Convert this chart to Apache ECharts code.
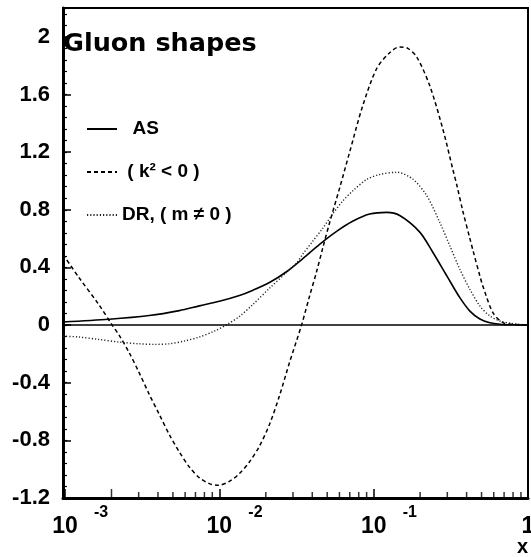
<!DOCTYPE html>
<html><head><meta charset="utf-8">
<script src="https://cdn.jsdelivr.net/npm/echarts@6/dist/echarts.min.js"></script>
<style>html,body{margin:0;padding:0;background:#fff}#c{width:531px;height:557px}</style>
</head><body><div id="c"></div>
<script>
// ---- data ----
const asX = [0.00097, 0.00193, 0.00351, 0.00550, 0.00742, 0.0100, 0.01349, 0.01638, 0.02112, 0.02723, 0.0346, 0.04461, 0.0575, 0.07304, 0.09419, 0.1214, 0.1475, 0.1989, 0.2416, 0.2979, 0.3617, 0.4202, 0.4879, 0.5666, 0.6579, 0.7992, 1.0];
const asY = [0.021, 0.040, 0.066, 0.100, 0.133, 0.165, 0.205, 0.240, 0.295, 0.370, 0.460, 0.560, 0.650, 0.720, 0.770, 0.782, 0.760, 0.645, 0.505, 0.341, 0.190, 0.097, 0.042, 0.016, 0.006, 0.002, 0.0];

const kX = [0.00097, 0.00123, 0.00166, 0.00202, 0.00224, 0.00260, 0.00302, 0.00351, 0.00408, 0.00474, 0.00550, 0.00639, 0.00742, 0.00861, 0.0098, 0.01161, 0.01349, 0.01566, 0.01819, 0.02112, 0.02453, 0.02848, 0.03408, 0.0384, 0.04265, 0.04665, 0.05179, 0.06014, 0.06985, 0.08483, 0.1046, 0.1270, 0.1475, 0.1663, 0.1902, 0.2310, 0.2806, 0.3258, 0.3459, 0.3783, 0.4202, 0.4394, 0.4879, 0.5103, 0.5925, 0.6881, 0.7992, 1.0];
const kY = [0.49, 0.33, 0.14, 0.0, -0.07, -0.19, -0.33, -0.48, -0.62, -0.76, -0.88, -0.985, -1.06, -1.10, -1.112, -1.085, -1.03, -0.95, -0.84, -0.69, -0.49, -0.26, 0.0, 0.20, 0.37, 0.53, 0.71, 0.95, 1.20, 1.52, 1.78, 1.89, 1.93, 1.92, 1.86, 1.66, 1.36, 1.08, 0.97, 0.79, 0.60, 0.52, 0.34, 0.27, 0.086, 0.017, 0.005, 0.0];

const drX = [0.00097, 0.00123, 0.00166, 0.00224, 0.00302, 0.00378, 0.00474, 0.00593, 0.00742, 0.00928, 0.01127, 0.01349, 0.01638, 0.02112, 0.02723, 0.03162, 0.0346, 0.04017, 0.04665, 0.05418, 0.06291, 0.07304, 0.09005, 0.1094, 0.1411, 0.1791, 0.2209, 0.2683, 0.3115, 0.3617, 0.4202, 0.4879, 0.5666, 0.6579, 0.7992, 1.0];
const drY = [-0.077, -0.083, -0.100, -0.118, -0.130, -0.134, -0.130, -0.111, -0.083, -0.042, 0.005, 0.060, 0.140, 0.255, 0.365, 0.43, 0.49, 0.58, 0.67, 0.77, 0.86, 0.93, 1.01, 1.045, 1.06, 1.013, 0.897, 0.712, 0.55, 0.387, 0.248, 0.132, 0.063, 0.028, 0.01, 0.0];

const seriesNames = ['AS', '( k\u00B2 < 0 )', 'DR, ( m \u2260 0 )'];
const legendPrefix = ['  ', ' ', ''];
const titleText = 'Gluon shapes';
const xTitle = 'x';

const xMin = 0.00097, xMax = 1;
const yMin = -1.2, yMax = 2.2, yStep = 0.4, yMinorStep = 0.08;
const decadeValues = [0.001, 0.01, 0.1, 1];
const decadeBase = ['10', '10', '10', '1'];
const decadeExp = ['-3', '-2', '-1', ''];
const minorXTicks = [0.003, 0.004, 0.005, 0.006, 0.007, 0.008, 0.009,
  0.02, 0.03, 0.04, 0.05, 0.06, 0.07, 0.08, 0.09,
  0.2, 0.3, 0.4, 0.5, 0.6, 0.7, 0.8, 0.9];
const longMinorXTicks = [0.002];

// ---- helpers ----
const zip = (xs, ys) => xs.map((x, i) => [x, ys[i]]);
const decadeIndex = v => decadeValues.findIndex(d => Math.abs(Math.log10(v) - Math.log10(d)) < 1e-6);
const FONT = 'Liberation Sans';
const NOCOLOR = 'rgba(0,0,0,0)';
const TICK = '#000';

const chart = echarts.init(document.getElementById('c'), null, {renderer: 'canvas'});
const lineCommon = {
  type: 'line', showSymbol: false, symbol: 'none', smooth: 0.3,
  xAxisIndex: 0, animation: false, z: 3, itemStyle: {color: NOCOLOR}
};
chart.setOption({
  animation: false,
  backgroundColor: '#fff',
  grid: {left: 63, right: 3, top: 8, bottom: 59, show: true, borderColor: '#000', borderWidth: 2,
         containLabel: false, outerBoundsMode: 'none'},
  legend: {
    orient: 'vertical', left: 81, top: 114, itemWidth: 30, itemHeight: 14, itemGap: 23,
    selectedMode: false, data: seriesNames,
    itemStyle: {color: NOCOLOR, borderWidth: 0},
    formatter: name => legendPrefix[seriesNames.indexOf(name)] + name,
    textStyle: {fontFamily: FONT, fontWeight: 'bold', fontSize: 19, color: '#000', lineHeight: 20}
  },
  xAxis: [
    {
      type: 'log', logBase: 10, min: xMin, max: xMax, position: 'bottom',
      axisLine: {show: true, onZero: false, lineStyle: {color: '#000', width: 3}},
      axisTick: {show: true, inside: true, length: 9, lineStyle: {color: TICK, width: 1.5}},
      axisLabel: {interval: 0, margin: 17, color: '#000', fontFamily: FONT, fontWeight: 'bold', fontSize: 23,
        formatter: v => { const i = decadeIndex(v); return i >= 0 ? decadeBase[i] : ''; }},
      splitLine: {show: false}, minorTick: {show: false}
    },
    {
      type: 'log', logBase: 10, min: xMin, max: xMax, position: 'bottom',
      axisLine: {show: false, onZero: false}, axisTick: {show: false}, splitLine: {show: false},
      axisLabel: {interval: 0, margin: 7, align: 'left', padding: [0, 0, 0, 29], color: '#000',
        fontFamily: FONT, fontWeight: 'bold', fontSize: 16,
        formatter: v => { const i = decadeIndex(v); return i >= 0 ? decadeExp[i] : ''; }}
    }
  ],
  yAxis: [
    {
      type: 'value', min: yMin, max: yMax, interval: yStep, position: 'left',
      axisLine: {show: true, onZero: false, lineStyle: {color: '#000', width: 3}},
      axisTick: {show: true, inside: true, length: 8, lineStyle: {color: TICK, width: 1.5}},
      axisLabel: {margin: 13, color: '#000', fontFamily: FONT, fontWeight: 'bold', fontSize: 22, showMaxLabel: false,
        formatter: v => (Math.abs(v - yMax) < 1e-9 ? '' : String(+v.toFixed(1)))},
      splitLine: {show: false}
    },
    {
      type: 'value', min: yMin, max: yMax, interval: yMinorStep, position: 'left',
      axisLine: {show: true, onZero: false, lineStyle: {color: '#000', width: 1}},
      axisLabel: {show: false}, splitLine: {show: false},
      axisTick: {show: true, inside: true, length: 4, lineStyle: {color: TICK, width: 1.2}}
    }
  ],
  series: [
    Object.assign({}, lineCommon, {
      name: seriesNames[0], yAxisIndex: 0, data: zip(asX, asY),
      lineStyle: {color: '#000', width: 1.6, type: 'solid'},
      markLine: {silent: true, symbol: ['none', 'none'], label: {show: false}, animation: false,
        lineStyle: {color: '#000', type: 'solid', width: 1.5}, data: [{yAxis: 0}]}
    }),
    Object.assign({}, lineCommon, {
      name: seriesNames[1], yAxisIndex: 0, data: zip(kX, kY),
      lineStyle: {color: '#000', width: 1.5, type: [4, 3]}
    }),
    Object.assign({}, lineCommon, {
      name: seriesNames[2], yAxisIndex: 1, data: zip(drX, drY),
      lineStyle: {color: '#222', width: 1.4, type: [1.2, 2]}
    }),
    {
      type: 'scatter', silent: true, clip: false, xAxisIndex: 0, yAxisIndex: 0,
      symbol: 'rect', symbolSize: [1.5, 6], symbolOffset: [0, -3],
      itemStyle: {color: TICK}, data: minorXTicks.map(v => [v, yMin]), z: 4
    },
    {
      type: 'scatter', silent: true, clip: false, xAxisIndex: 0, yAxisIndex: 0,
      symbol: 'rect', symbolSize: [1.5, 9], symbolOffset: [0, -4.5],
      itemStyle: {color: TICK}, data: longMinorXTicks.map(v => [v, yMin]), z: 4
    }
  ],
  graphic: [
    {type: 'text', left: 63, top: 31, z: 10,
     style: {text: titleText, fill: '#000', font: 'bold 25.5px "DejaVu Sans"'}},
    {type: 'text', right: 3, top: 537, z: 10,
     style: {text: xTitle, fill: '#000', font: 'bold 20px "Liberation Sans"'}}
  ]
});
</script></body></html>
